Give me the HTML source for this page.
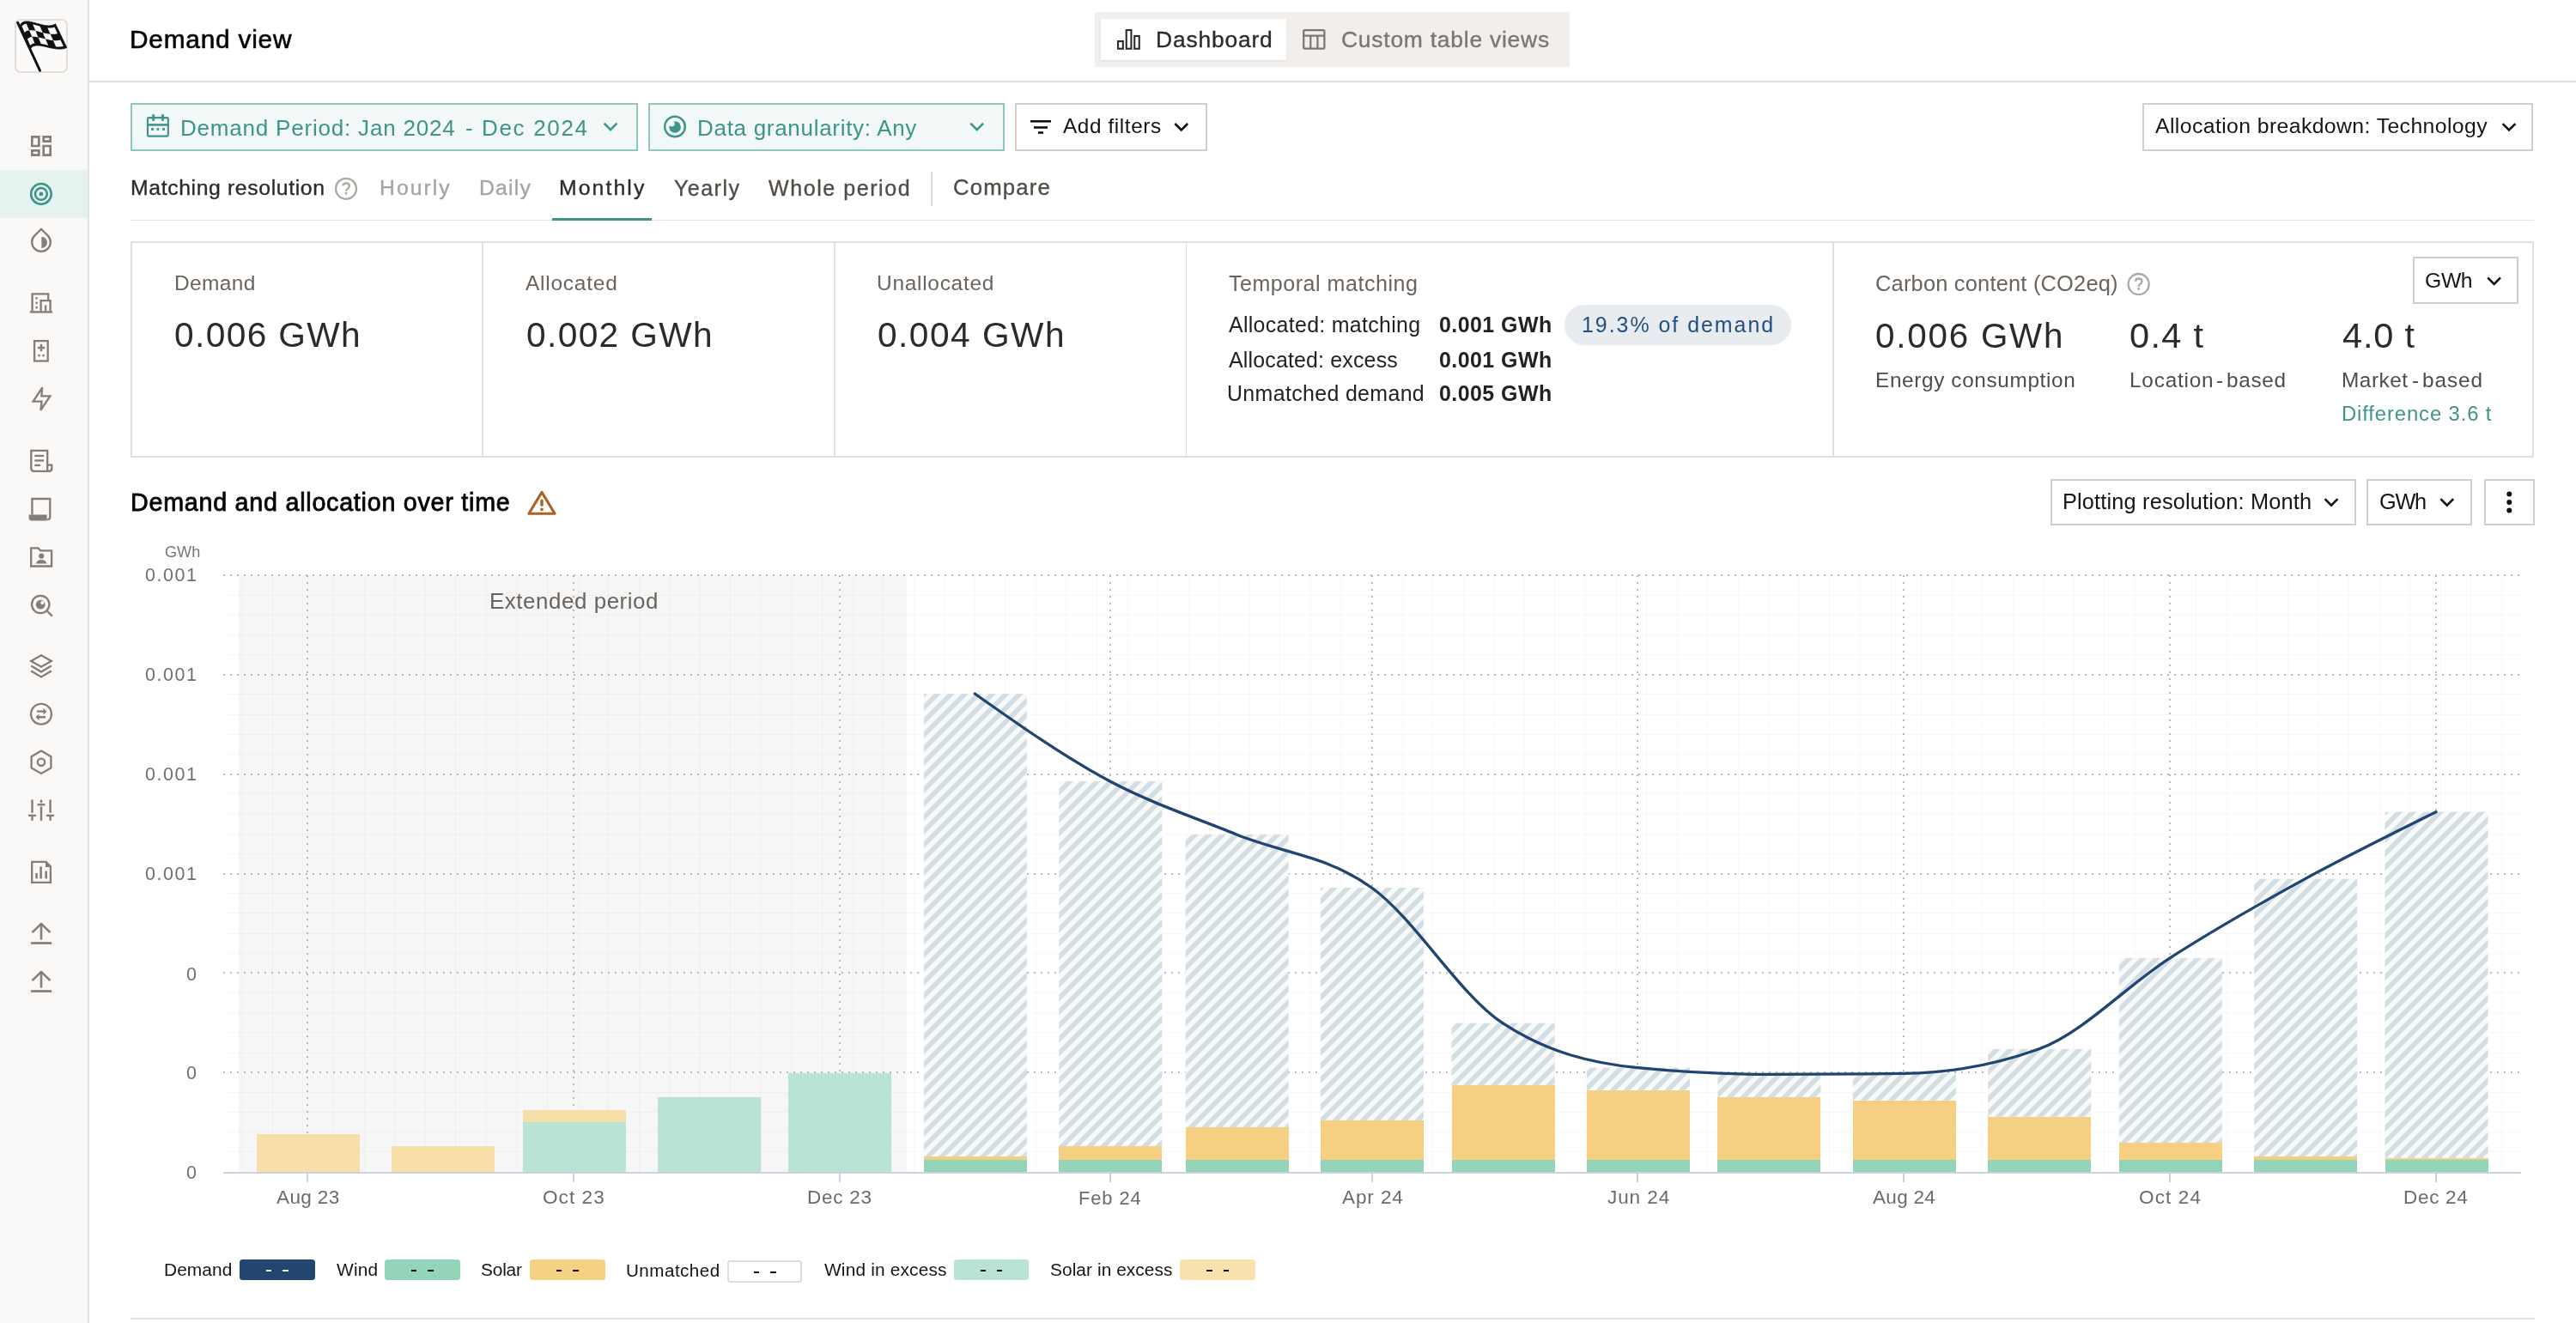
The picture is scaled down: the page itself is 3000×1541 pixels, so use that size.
<!DOCTYPE html><html><head><meta charset="utf-8"><title>Demand view</title><style>html,body{margin:0;padding:0;}body{width:3000px;height:1541px;overflow:hidden;position:relative;background:#fff;font-family:"Liberation Sans",sans-serif;}.t{position:absolute;white-space:nowrap;line-height:1;-webkit-font-smoothing:antialiased;will-change:transform;}</style></head><body><div style="position:absolute;left:0px;top:0px;width:102px;height:1541px;background:#faf9f7"></div><div style="position:absolute;left:102px;top:0px;width:2px;height:1541px;background:#e6e2de"></div><div style="position:absolute;left:0px;top:198px;width:102px;height:56px;background:#e6f2f0"></div><div style="position:absolute;left:16.6px;top:22.2px;width:62.9px;height:63.2px;box-sizing:border-box;border:2px solid #e2dedb;border-radius:7px;background:#fbfaf9"></div><div style="position:absolute;left:104px;top:94.2px;width:2896px;height:1.8px;background:#e3dfdb"></div><div style="position:absolute;left:1274.5px;top:14px;width:553.5px;height:63.5px;background:#f1eeeb"></div><div style="position:absolute;left:1282px;top:22px;width:216px;height:47.5px;background:#fff;box-shadow:0 1px 2px rgba(0,0,0,0.08)"></div><div style="position:absolute;left:152.2px;top:120.2px;width:591px;height:55.5px;box-sizing:border-box;border:2px solid #8dc8bf;background:#f2f8f7"></div><div style="position:absolute;left:754.5px;top:120.2px;width:415px;height:55.5px;box-sizing:border-box;border:2px solid #8dc8bf;background:#f2f8f7"></div><div style="position:absolute;left:1182px;top:120.2px;width:223.8px;height:55.5px;box-sizing:border-box;border:2px solid #d3cdc8;background:#fff"></div><div style="position:absolute;left:2495px;top:120.3px;width:455.3px;height:55.3px;box-sizing:border-box;border:2px solid #d3cdc8;background:#fff"></div><div style="position:absolute;left:152px;top:255.8px;width:2799px;height:1.2px;background:#e6e2de"></div><div style="position:absolute;left:643px;top:253.6px;width:116px;height:3.2px;background:#3d9488"></div><div style="position:absolute;left:1084.2px;top:200px;width:1.6px;height:39.5px;background:#dcd8d4"></div><div style="position:absolute;left:152px;top:281px;width:2799px;height:252px;box-sizing:border-box;border:2px solid #e3dfdb"></div><div style="position:absolute;left:561px;top:281px;width:1.8px;height:252px;background:#e3dfdb"></div><div style="position:absolute;left:971px;top:281px;width:1.8px;height:252px;background:#e3dfdb"></div><div style="position:absolute;left:1380.5px;top:281px;width:1.8px;height:252px;background:#e3dfdb"></div><div style="position:absolute;left:2134.2px;top:281px;width:1.8px;height:252px;background:#e3dfdb"></div><div style="position:absolute;left:1821.8px;top:354.9px;width:264px;height:46.7px;background:#e8ecf0;border-radius:24px"></div><div style="position:absolute;left:2810px;top:299.4px;width:123px;height:54.4px;box-sizing:border-box;border:2px solid #d3cdc8"></div><div style="position:absolute;left:2388.4px;top:557.7px;width:356px;height:54.7px;box-sizing:border-box;border:2px solid #d3cdc8"></div><div style="position:absolute;left:2756.3px;top:557.7px;width:123.1px;height:54.7px;box-sizing:border-box;border:2px solid #d3cdc8"></div><div style="position:absolute;left:2892.5px;top:557.7px;width:59.3px;height:54.7px;box-sizing:border-box;border:2px solid #d3cdc8"></div><div style="position:absolute;left:152px;top:1535px;width:2800px;height:2px;background:#e4e0dd"></div><div style="position:absolute;left:279px;top:1467px;width:87.75px;height:23.75px;background:#22466f;border-radius:3.5px;box-sizing:border-box;"></div><div style="position:absolute;left:310.075px;top:1478.575px;width:6.4px;height:2.2px;background:#fff"></div><div style="position:absolute;left:329.275px;top:1478.575px;width:6.4px;height:2.2px;background:#fff"></div><div style="position:absolute;left:448px;top:1467px;width:87.75px;height:23.75px;background:#94d4b8;border-radius:3.5px;box-sizing:border-box;"></div><div style="position:absolute;left:479.075px;top:1478.575px;width:6.4px;height:2.2px;background:#111"></div><div style="position:absolute;left:498.275px;top:1478.575px;width:6.4px;height:2.2px;background:#111"></div><div style="position:absolute;left:617px;top:1467px;width:87.5px;height:23.75px;background:#f5d283;border-radius:3.5px;box-sizing:border-box;"></div><div style="position:absolute;left:647.95px;top:1478.575px;width:6.4px;height:2.2px;background:#111"></div><div style="position:absolute;left:667.15px;top:1478.575px;width:6.4px;height:2.2px;background:#111"></div><div style="position:absolute;left:847.4px;top:1467.7px;width:86.80000000000007px;height:26.5px;background:#fff;border-radius:3.5px;box-sizing:border-box;border:2px solid #d3dde5;"></div><div style="position:absolute;left:878.0px;top:1480.65px;width:6.4px;height:2.2px;background:#111"></div><div style="position:absolute;left:897.1999999999999px;top:1480.65px;width:6.4px;height:2.2px;background:#111"></div><div style="position:absolute;left:1110.9px;top:1467px;width:87.59999999999991px;height:23.75px;background:#b9e4d3;border-radius:3.5px;box-sizing:border-box;"></div><div style="position:absolute;left:1141.9px;top:1478.575px;width:6.4px;height:2.2px;background:#111"></div><div style="position:absolute;left:1161.1000000000001px;top:1478.575px;width:6.4px;height:2.2px;background:#111"></div><div style="position:absolute;left:1374.3px;top:1467px;width:87.60000000000014px;height:23.75px;background:#f8e1ac;border-radius:3.5px;box-sizing:border-box;"></div><div style="position:absolute;left:1405.3px;top:1478.575px;width:6.4px;height:2.2px;background:#111"></div><div style="position:absolute;left:1424.5px;top:1478.575px;width:6.4px;height:2.2px;background:#111"></div><svg style="position:absolute;left:0;top:600px" width="3000" height="800" viewBox="0 600 3000 800" shape-rendering="crispEdges"><defs><pattern id="hatch" patternUnits="userSpaceOnUse" width="11.3137" height="40" patternTransform="rotate(45) translate(5.66,0)"><rect x="0" y="0" width="11.3137" height="40" fill="#f9fafa"/><rect x="0" y="0" width="5.6569" height="40" fill="#d3dde4"/></pattern></defs><rect x="278" y="669.9" width="778.25" height="695.1" fill="#f6f6f6"/><rect x="259.5" y="1341.3" width="2676.2" height="1" fill="#000" fill-opacity="0.028"/><rect x="259.5" y="1318.2" width="2676.2" height="1" fill="#000" fill-opacity="0.028"/><rect x="259.5" y="1295.0" width="2676.2" height="1" fill="#000" fill-opacity="0.028"/><rect x="259.5" y="1271.8" width="2676.2" height="1" fill="#000" fill-opacity="0.028"/><rect x="259.5" y="1225.5" width="2676.2" height="1" fill="#000" fill-opacity="0.028"/><rect x="259.5" y="1202.3" width="2676.2" height="1" fill="#000" fill-opacity="0.028"/><rect x="259.5" y="1179.1" width="2676.2" height="1" fill="#000" fill-opacity="0.028"/><rect x="259.5" y="1156.0" width="2676.2" height="1" fill="#000" fill-opacity="0.028"/><rect x="259.5" y="1109.6" width="2676.2" height="1" fill="#000" fill-opacity="0.028"/><rect x="259.5" y="1086.5" width="2676.2" height="1" fill="#000" fill-opacity="0.028"/><rect x="259.5" y="1063.3" width="2676.2" height="1" fill="#000" fill-opacity="0.028"/><rect x="259.5" y="1040.1" width="2676.2" height="1" fill="#000" fill-opacity="0.028"/><rect x="259.5" y="993.8" width="2676.2" height="1" fill="#000" fill-opacity="0.028"/><rect x="259.5" y="970.6" width="2676.2" height="1" fill="#000" fill-opacity="0.028"/><rect x="259.5" y="947.4" width="2676.2" height="1" fill="#000" fill-opacity="0.028"/><rect x="259.5" y="924.3" width="2676.2" height="1" fill="#000" fill-opacity="0.028"/><rect x="259.5" y="877.9" width="2676.2" height="1" fill="#000" fill-opacity="0.028"/><rect x="259.5" y="854.8" width="2676.2" height="1" fill="#000" fill-opacity="0.028"/><rect x="259.5" y="831.6" width="2676.2" height="1" fill="#000" fill-opacity="0.028"/><rect x="259.5" y="808.4" width="2676.2" height="1" fill="#000" fill-opacity="0.028"/><rect x="259.5" y="762.1" width="2676.2" height="1" fill="#000" fill-opacity="0.028"/><rect x="259.5" y="738.9" width="2676.2" height="1" fill="#000" fill-opacity="0.028"/><rect x="259.5" y="715.7" width="2676.2" height="1" fill="#000" fill-opacity="0.028"/><rect x="259.5" y="692.6" width="2676.2" height="1" fill="#000" fill-opacity="0.028"/><rect x="281.3" y="669.9" width="1" height="695.1" fill="#000" fill-opacity="0.028"/><rect x="316.9" y="669.9" width="1" height="695.1" fill="#000" fill-opacity="0.028"/><rect x="352.4" y="669.9" width="1" height="695.1" fill="#000" fill-opacity="0.028"/><rect x="388.0" y="669.9" width="1" height="695.1" fill="#000" fill-opacity="0.028"/><rect x="423.5" y="669.9" width="1" height="695.1" fill="#000" fill-opacity="0.028"/><rect x="459.1" y="669.9" width="1" height="695.1" fill="#000" fill-opacity="0.028"/><rect x="494.7" y="669.9" width="1" height="695.1" fill="#000" fill-opacity="0.028"/><rect x="530.2" y="669.9" width="1" height="695.1" fill="#000" fill-opacity="0.028"/><rect x="565.8" y="669.9" width="1" height="695.1" fill="#000" fill-opacity="0.028"/><rect x="601.3" y="669.9" width="1" height="695.1" fill="#000" fill-opacity="0.028"/><rect x="636.9" y="669.9" width="1" height="695.1" fill="#000" fill-opacity="0.028"/><rect x="672.5" y="669.9" width="1" height="695.1" fill="#000" fill-opacity="0.028"/><rect x="708.0" y="669.9" width="1" height="695.1" fill="#000" fill-opacity="0.028"/><rect x="743.6" y="669.9" width="1" height="695.1" fill="#000" fill-opacity="0.028"/><rect x="779.1" y="669.9" width="1" height="695.1" fill="#000" fill-opacity="0.028"/><rect x="814.7" y="669.9" width="1" height="695.1" fill="#000" fill-opacity="0.028"/><rect x="850.3" y="669.9" width="1" height="695.1" fill="#000" fill-opacity="0.028"/><rect x="885.8" y="669.9" width="1" height="695.1" fill="#000" fill-opacity="0.028"/><rect x="921.4" y="669.9" width="1" height="695.1" fill="#000" fill-opacity="0.028"/><rect x="956.9" y="669.9" width="1" height="695.1" fill="#000" fill-opacity="0.028"/><rect x="992.5" y="669.9" width="1" height="695.1" fill="#000" fill-opacity="0.028"/><rect x="1028.0" y="669.9" width="1" height="695.1" fill="#000" fill-opacity="0.028"/><rect x="1063.6" y="669.9" width="1" height="695.1" fill="#000" fill-opacity="0.028"/><rect x="1099.2" y="669.9" width="1" height="695.1" fill="#000" fill-opacity="0.028"/><rect x="1134.7" y="669.9" width="1" height="695.1" fill="#000" fill-opacity="0.028"/><rect x="1170.3" y="669.9" width="1" height="695.1" fill="#000" fill-opacity="0.028"/><rect x="1205.8" y="669.9" width="1" height="695.1" fill="#000" fill-opacity="0.028"/><rect x="1241.4" y="669.9" width="1" height="695.1" fill="#000" fill-opacity="0.028"/><rect x="1277.0" y="669.9" width="1" height="695.1" fill="#000" fill-opacity="0.028"/><rect x="1312.5" y="669.9" width="1" height="695.1" fill="#000" fill-opacity="0.028"/><rect x="1348.1" y="669.9" width="1" height="695.1" fill="#000" fill-opacity="0.028"/><rect x="1383.6" y="669.9" width="1" height="695.1" fill="#000" fill-opacity="0.028"/><rect x="1419.2" y="669.9" width="1" height="695.1" fill="#000" fill-opacity="0.028"/><rect x="1454.8" y="669.9" width="1" height="695.1" fill="#000" fill-opacity="0.028"/><rect x="1490.3" y="669.9" width="1" height="695.1" fill="#000" fill-opacity="0.028"/><rect x="1525.9" y="669.9" width="1" height="695.1" fill="#000" fill-opacity="0.028"/><rect x="1561.4" y="669.9" width="1" height="695.1" fill="#000" fill-opacity="0.028"/><rect x="1597.0" y="669.9" width="1" height="695.1" fill="#000" fill-opacity="0.028"/><rect x="1632.6" y="669.9" width="1" height="695.1" fill="#000" fill-opacity="0.028"/><rect x="1668.1" y="669.9" width="1" height="695.1" fill="#000" fill-opacity="0.028"/><rect x="1703.7" y="669.9" width="1" height="695.1" fill="#000" fill-opacity="0.028"/><rect x="1739.2" y="669.9" width="1" height="695.1" fill="#000" fill-opacity="0.028"/><rect x="1774.8" y="669.9" width="1" height="695.1" fill="#000" fill-opacity="0.028"/><rect x="1810.4" y="669.9" width="1" height="695.1" fill="#000" fill-opacity="0.028"/><rect x="1845.9" y="669.9" width="1" height="695.1" fill="#000" fill-opacity="0.028"/><rect x="1881.5" y="669.9" width="1" height="695.1" fill="#000" fill-opacity="0.028"/><rect x="1917.0" y="669.9" width="1" height="695.1" fill="#000" fill-opacity="0.028"/><rect x="1952.6" y="669.9" width="1" height="695.1" fill="#000" fill-opacity="0.028"/><rect x="1988.2" y="669.9" width="1" height="695.1" fill="#000" fill-opacity="0.028"/><rect x="2023.7" y="669.9" width="1" height="695.1" fill="#000" fill-opacity="0.028"/><rect x="2059.3" y="669.9" width="1" height="695.1" fill="#000" fill-opacity="0.028"/><rect x="2094.8" y="669.9" width="1" height="695.1" fill="#000" fill-opacity="0.028"/><rect x="2130.4" y="669.9" width="1" height="695.1" fill="#000" fill-opacity="0.028"/><rect x="2166.0" y="669.9" width="1" height="695.1" fill="#000" fill-opacity="0.028"/><rect x="2201.5" y="669.9" width="1" height="695.1" fill="#000" fill-opacity="0.028"/><rect x="2237.1" y="669.9" width="1" height="695.1" fill="#000" fill-opacity="0.028"/><rect x="2272.6" y="669.9" width="1" height="695.1" fill="#000" fill-opacity="0.028"/><rect x="2308.2" y="669.9" width="1" height="695.1" fill="#000" fill-opacity="0.028"/><rect x="2343.7" y="669.9" width="1" height="695.1" fill="#000" fill-opacity="0.028"/><rect x="2379.3" y="669.9" width="1" height="695.1" fill="#000" fill-opacity="0.028"/><rect x="2414.9" y="669.9" width="1" height="695.1" fill="#000" fill-opacity="0.028"/><rect x="2450.4" y="669.9" width="1" height="695.1" fill="#000" fill-opacity="0.028"/><rect x="2486.0" y="669.9" width="1" height="695.1" fill="#000" fill-opacity="0.028"/><rect x="2521.5" y="669.9" width="1" height="695.1" fill="#000" fill-opacity="0.028"/><rect x="2557.1" y="669.9" width="1" height="695.1" fill="#000" fill-opacity="0.028"/><rect x="2592.7" y="669.9" width="1" height="695.1" fill="#000" fill-opacity="0.028"/><rect x="2628.2" y="669.9" width="1" height="695.1" fill="#000" fill-opacity="0.028"/><rect x="2663.8" y="669.9" width="1" height="695.1" fill="#000" fill-opacity="0.028"/><rect x="2699.3" y="669.9" width="1" height="695.1" fill="#000" fill-opacity="0.028"/><rect x="2734.9" y="669.9" width="1" height="695.1" fill="#000" fill-opacity="0.028"/><rect x="2770.5" y="669.9" width="1" height="695.1" fill="#000" fill-opacity="0.028"/><rect x="2806.0" y="669.9" width="1" height="695.1" fill="#000" fill-opacity="0.028"/><rect x="2841.6" y="669.9" width="1" height="695.1" fill="#000" fill-opacity="0.028"/><rect x="2877.1" y="669.9" width="1" height="695.1" fill="#000" fill-opacity="0.028"/><rect x="2912.7" y="669.9" width="1" height="695.1" fill="#000" fill-opacity="0.028"/><line x1="259.5" y1="1249.2" x2="2935.75" y2="1249.2" stroke="#bababa" stroke-width="2" stroke-dasharray="2 6"/><line x1="259.5" y1="1133.3" x2="2935.75" y2="1133.3" stroke="#bababa" stroke-width="2" stroke-dasharray="2 6"/><line x1="259.5" y1="1017.5" x2="2935.75" y2="1017.5" stroke="#bababa" stroke-width="2" stroke-dasharray="2 6"/><line x1="259.5" y1="901.6" x2="2935.75" y2="901.6" stroke="#bababa" stroke-width="2" stroke-dasharray="2 6"/><line x1="259.5" y1="785.8" x2="2935.75" y2="785.8" stroke="#bababa" stroke-width="2" stroke-dasharray="2 6"/><line x1="259.5" y1="669.9" x2="2935.75" y2="669.9" stroke="#bababa" stroke-width="2" stroke-dasharray="2 6"/><line x1="358.0" y1="669.9" x2="358.0" y2="1365.0" stroke="#bababa" stroke-width="2" stroke-dasharray="2 6"/><line x1="667.9" y1="669.9" x2="667.9" y2="1365.0" stroke="#bababa" stroke-width="2" stroke-dasharray="2 6"/><line x1="977.8" y1="669.9" x2="977.8" y2="1365.0" stroke="#bababa" stroke-width="2" stroke-dasharray="2 6"/><line x1="1292.7" y1="669.9" x2="1292.7" y2="1365.0" stroke="#bababa" stroke-width="2" stroke-dasharray="2 6"/><line x1="1597.5" y1="669.9" x2="1597.5" y2="1365.0" stroke="#bababa" stroke-width="2" stroke-dasharray="2 6"/><line x1="1907.4" y1="669.9" x2="1907.4" y2="1365.0" stroke="#bababa" stroke-width="2" stroke-dasharray="2 6"/><line x1="2217.2" y1="669.9" x2="2217.2" y2="1365.0" stroke="#bababa" stroke-width="2" stroke-dasharray="2 6"/><line x1="2527.1" y1="669.9" x2="2527.1" y2="1365.0" stroke="#bababa" stroke-width="2" stroke-dasharray="2 6"/><line x1="2837.0" y1="669.9" x2="2837.0" y2="1365.0" stroke="#bababa" stroke-width="2" stroke-dasharray="2 6"/><rect x="298.6" y="1320.75" width="120" height="44.25" fill="#f8dfa9"/><rect x="456.1" y="1335" width="120" height="30.0" fill="#f8dfa9"/><rect x="608.5" y="1293" width="120" height="14" fill="#f8dfa9"/><rect x="608.5" y="1307" width="120" height="58.0" fill="#b9e4d3"/><rect x="766.0" y="1278" width="120" height="87.0" fill="#b9e4d3"/><rect x="918.4" y="1250" width="120" height="115.0" fill="#b9e4d3"/><rect x="1075.8" y="808" width="120" height="539.0" fill="url(#hatch)" shape-rendering="auto"/><rect x="1075.8" y="1347" width="120" height="4.0" fill="#f5d083"/><rect x="1075.8" y="1351" width="120" height="14.0" fill="#94d4b8"/><rect x="1233.3" y="910" width="120" height="425.0" fill="url(#hatch)" shape-rendering="auto"/><rect x="1233.3" y="1335" width="120" height="16.0" fill="#f5d083"/><rect x="1233.3" y="1351" width="120" height="14.0" fill="#94d4b8"/><rect x="1380.6" y="972" width="120" height="341.0" fill="url(#hatch)" shape-rendering="auto"/><rect x="1380.6" y="1313" width="120" height="38.0" fill="#f5d083"/><rect x="1380.6" y="1351" width="120" height="14.0" fill="#94d4b8"/><rect x="1538.1" y="1034" width="120" height="271.0" fill="url(#hatch)" shape-rendering="auto"/><rect x="1538.1" y="1305" width="120" height="46.0" fill="#f5d083"/><rect x="1538.1" y="1351" width="120" height="14.0" fill="#94d4b8"/><rect x="1690.5" y="1191.7" width="120" height="72.3" fill="url(#hatch)" shape-rendering="auto"/><rect x="1690.5" y="1264" width="120" height="87.0" fill="#f5d083"/><rect x="1690.5" y="1351" width="120" height="14.0" fill="#94d4b8"/><rect x="1848.0" y="1243.7" width="120" height="26.0" fill="url(#hatch)" shape-rendering="auto"/><rect x="1848.0" y="1269.7" width="120" height="81.3" fill="#f5d083"/><rect x="1848.0" y="1351" width="120" height="14.0" fill="#94d4b8"/><rect x="2000.4" y="1251.3" width="120" height="26.6" fill="url(#hatch)" shape-rendering="auto"/><rect x="2000.4" y="1277.9" width="120" height="73.1" fill="#f5d083"/><rect x="2000.4" y="1351" width="120" height="14.0" fill="#94d4b8"/><rect x="2157.8" y="1250.4" width="120" height="31.4" fill="url(#hatch)" shape-rendering="auto"/><rect x="2157.8" y="1281.8" width="120" height="69.2" fill="#f5d083"/><rect x="2157.8" y="1351" width="120" height="14.0" fill="#94d4b8"/><rect x="2315.3" y="1221.8" width="120" height="79.0" fill="url(#hatch)" shape-rendering="auto"/><rect x="2315.3" y="1300.8" width="120" height="50.2" fill="#f5d083"/><rect x="2315.3" y="1351" width="120" height="14.0" fill="#94d4b8"/><rect x="2467.7" y="1115.8" width="120" height="215.2" fill="url(#hatch)" shape-rendering="auto"/><rect x="2467.7" y="1331" width="120" height="20.0" fill="#f5d083"/><rect x="2467.7" y="1351" width="120" height="14.0" fill="#94d4b8"/><rect x="2625.2" y="1023.6" width="120" height="323.4" fill="url(#hatch)" shape-rendering="auto"/><rect x="2625.2" y="1347" width="120" height="4.0" fill="#f5d083"/><rect x="2625.2" y="1351" width="120" height="14.0" fill="#94d4b8"/><rect x="2777.6" y="945.7" width="120" height="403.3" fill="url(#hatch)" shape-rendering="auto"/><rect x="2777.6" y="1349" width="120" height="2.0" fill="#f5d083"/><rect x="2777.6" y="1351" width="120" height="14.0" fill="#94d4b8"/><rect x="259.5" y="1365.0" width="2676.25" height="2" fill="#cdd1e4"/><rect x="357.0" y="1367.0" width="2" height="10" fill="#cdd1e4"/><rect x="666.9" y="1367.0" width="2" height="10" fill="#cdd1e4"/><rect x="976.8" y="1367.0" width="2" height="10" fill="#cdd1e4"/><rect x="1291.7" y="1367.0" width="2" height="10" fill="#cdd1e4"/><rect x="1596.5" y="1367.0" width="2" height="10" fill="#cdd1e4"/><rect x="1906.4" y="1367.0" width="2" height="10" fill="#cdd1e4"/><rect x="2216.2" y="1367.0" width="2" height="10" fill="#cdd1e4"/><rect x="2526.1" y="1367.0" width="2" height="10" fill="#cdd1e4"/><rect x="2836.0" y="1367.0" width="2" height="10" fill="#cdd1e4"/><path d="M1135.23,808.00 C1187.72,845.08 1240.21,882.15 1292.70,910.00 C1341.81,936.05 1390.92,951.98 1440.02,972.00 C1492.52,993.40 1545.01,996.23 1597.50,1034.00 C1648.30,1070.55 1699.10,1158.15 1749.90,1191.70 C1802.39,1226.37 1854.88,1238.46 1907.38,1243.70 C1958.17,1248.77 2008.97,1251.30 2059.77,1251.30 C2112.27,1251.30 2164.76,1251.00 2217.25,1250.40 C2269.74,1249.80 2322.23,1240.87 2374.73,1221.80 C2425.53,1203.35 2476.33,1148.38 2527.12,1115.80 C2579.62,1082.13 2632.11,1052.35 2684.60,1023.60 C2735.40,995.78 2786.20,970.74 2837.00,945.70" fill="none" stroke="#1f4571" stroke-width="3.3" stroke-linecap="round" shape-rendering="auto"/></svg><div class="t" style="left:151.16px;top:31.16px;font-size:29.81px;letter-spacing:0.796px;color:#050505;font-weight:normal;-webkit-text-stroke:0.6px #050505;">Demand view</div><div class="t" style="left:1346.43px;top:32.59px;font-size:26.46px;letter-spacing:0.788px;color:#2b2b2b;font-weight:normal;-webkit-text-stroke:0.35px #2b2b2b;">Dashboard</div><div class="t" style="left:1562.26px;top:32.59px;font-size:26.46px;letter-spacing:0.752px;color:#7d756e;font-weight:normal;-webkit-text-stroke:0.35px #7d756e;">Custom table views</div><div class="t" style="left:210.36px;top:136.05px;font-size:26.04px;letter-spacing:0.784px;color:#3d9488;font-weight:normal;">Demand Period: Jan 2024</div><div class="t" style="left:542.44px;top:136.05px;font-size:26.04px;letter-spacing:0.000px;color:#3d9488;font-weight:normal;">-</div><div class="t" style="left:561.46px;top:136.05px;font-size:26.04px;letter-spacing:1.666px;color:#3d9488;font-weight:normal;">Dec 2024</div><div class="t" style="left:812.46px;top:136.05px;font-size:26.04px;letter-spacing:0.687px;color:#3d9488;font-weight:normal;">Data granularity: Any</div><div class="t" style="left:1237.55px;top:135.36px;font-size:24.37px;letter-spacing:0.582px;color:#151515;font-weight:normal;">Add filters</div><div class="t" style="left:2510.25px;top:135.31px;font-size:24.79px;letter-spacing:0.398px;color:#151515;font-weight:normal;">Allocation breakdown: Technology</div><div class="t" style="left:152.47px;top:206.91px;font-size:24.79px;letter-spacing:0.617px;color:#2b2b2b;font-weight:normal;-webkit-text-stroke:0.35px #2b2b2b;">Matching resolution</div><div class="t" style="left:442.37px;top:206.91px;font-size:24.79px;letter-spacing:2.005px;color:#a8a39e;font-weight:normal;-webkit-text-stroke:0.35px #a8a39e;">Hourly</div><div class="t" style="left:557.67px;top:206.91px;font-size:24.79px;letter-spacing:1.210px;color:#a8a39e;font-weight:normal;-webkit-text-stroke:0.35px #a8a39e;">Daily</div><div class="t" style="left:650.87px;top:206.91px;font-size:24.79px;letter-spacing:2.092px;color:#2b2b2b;font-weight:normal;-webkit-text-stroke:0.35px #2b2b2b;">Monthly</div><div class="t" style="left:784.55px;top:206.77px;font-size:25.07px;letter-spacing:1.440px;color:#524c47;font-weight:normal;-webkit-text-stroke:0.35px #524c47;">Yearly</div><div class="t" style="left:895.49px;top:206.77px;font-size:25.07px;letter-spacing:1.537px;color:#524c47;font-weight:normal;-webkit-text-stroke:0.35px #524c47;">Whole period</div><div class="t" style="left:1110.29px;top:206.17px;font-size:25.78px;letter-spacing:1.139px;color:#524c47;font-weight:normal;-webkit-text-stroke:0.35px #524c47;">Compare</div><div class="t" style="left:202.59px;top:318.15px;font-size:24.51px;letter-spacing:0.336px;color:#6b635c;font-weight:normal;">Demand</div><div class="t" style="left:203.31px;top:370.47px;font-size:40.67px;letter-spacing:1.384px;color:#2b2b2b;font-weight:normal;">0.006 GWh</div><div class="t" style="left:612.35px;top:318.15px;font-size:24.51px;letter-spacing:0.754px;color:#6b635c;font-weight:normal;">Allocated</div><div class="t" style="left:612.61px;top:370.47px;font-size:40.67px;letter-spacing:1.372px;color:#2b2b2b;font-weight:normal;">0.002 GWh</div><div class="t" style="left:1020.91px;top:318.15px;font-size:24.51px;letter-spacing:0.698px;color:#6b635c;font-weight:normal;">Unallocated</div><div class="t" style="left:1021.91px;top:370.47px;font-size:40.67px;letter-spacing:1.484px;color:#2b2b2b;font-weight:normal;">0.004 GWh</div><div class="t" style="left:1430.64px;top:318.37px;font-size:25.07px;letter-spacing:0.509px;color:#6b635c;font-weight:normal;">Temporal matching</div><div class="t" style="left:1431.15px;top:365.99px;font-size:24.93px;letter-spacing:0.309px;color:#222222;font-weight:normal;">Allocated: matching</div><div class="t" style="left:1431.15px;top:406.89px;font-size:24.93px;letter-spacing:0.176px;color:#222222;font-weight:normal;">Allocated: excess</div><div class="t" style="left:1429.28px;top:446.49px;font-size:24.93px;letter-spacing:0.353px;color:#222222;font-weight:normal;">Unmatched demand</div><div class="t" style="left:1675.61px;top:365.99px;font-size:24.93px;letter-spacing:0.464px;color:#222222;font-weight:bold;">0.001 GWh</div><div class="t" style="left:1675.61px;top:406.89px;font-size:24.93px;letter-spacing:0.464px;color:#222222;font-weight:bold;">0.001 GWh</div><div class="t" style="left:1675.61px;top:446.49px;font-size:24.93px;letter-spacing:0.464px;color:#222222;font-weight:bold;">0.005 GWh</div><div class="t" style="left:1842.40px;top:365.99px;font-size:24.93px;letter-spacing:1.982px;color:#245080;font-weight:normal;">19.3% of demand</div><div class="t" style="left:2184.31px;top:317.98px;font-size:25.42px;letter-spacing:0.207px;color:#6b635c;font-weight:normal;">Carbon content (CO2eq)</div><div class="t" style="left:2184.02px;top:370.80px;font-size:40.39px;letter-spacing:1.771px;color:#2b2b2b;font-weight:normal;">0.006 GWh</div><div class="t" style="left:2479.98px;top:369.83px;font-size:41.53px;letter-spacing:1.336px;color:#2b2b2b;font-weight:normal;">0.4 t</div><div class="t" style="left:2727.65px;top:369.83px;font-size:41.53px;letter-spacing:0.844px;color:#2b2b2b;font-weight:normal;">4.0 t</div><div class="t" style="left:2183.60px;top:430.61px;font-size:24.37px;letter-spacing:0.630px;color:#524c47;font-weight:normal;">Energy consumption</div><div class="t" style="left:2479.60px;top:430.61px;font-size:24.37px;letter-spacing:0.796px;color:#524c47;font-weight:normal;">Location</div><div class="t" style="left:2580.92px;top:430.61px;font-size:24.37px;letter-spacing:0.000px;color:#524c47;font-weight:normal;">-</div><div class="t" style="left:2593.33px;top:430.61px;font-size:24.37px;letter-spacing:0.667px;color:#524c47;font-weight:normal;">based</div><div class="t" style="left:2726.80px;top:430.61px;font-size:24.37px;letter-spacing:0.525px;color:#524c47;font-weight:normal;">Market</div><div class="t" style="left:2808.52px;top:430.61px;font-size:24.37px;letter-spacing:0.000px;color:#524c47;font-weight:normal;">-</div><div class="t" style="left:2820.53px;top:430.61px;font-size:24.37px;letter-spacing:0.942px;color:#524c47;font-weight:normal;">based</div><div class="t" style="left:2726.65px;top:470.44px;font-size:23.82px;letter-spacing:0.892px;color:#3d9488;font-weight:normal;">Difference 3.6 t</div><div class="t" style="left:2824.35px;top:314.51px;font-size:24.79px;letter-spacing:-0.398px;color:#151515;font-weight:normal;">GWh</div><div class="t" style="left:152.25px;top:570.61px;font-size:28.69px;letter-spacing:0.746px;color:#050505;font-weight:normal;-webkit-text-stroke:0.8px #050505;">Demand and allocation over time</div><div class="t" style="left:2401.52px;top:572.04px;font-size:25.35px;letter-spacing:0.165px;color:#151515;font-weight:normal;">Plotting resolution: Month</div><div class="t" style="left:2770.73px;top:572.04px;font-size:25.35px;letter-spacing:-1.291px;color:#151515;font-weight:normal;">GWh</div><div class="t" style="left:192.19px;top:633.67px;font-size:18.11px;letter-spacing:0.034px;color:#777777;font-weight:normal;">GWh</div><div class="t" style="left:570.07px;top:687.67px;font-size:25.91px;letter-spacing:0.558px;color:#6b635c;font-weight:normal;">Extended period</div><div class="t" style="left:217.26px;top:1356.31px;font-size:21.48px;letter-spacing:0.000px;color:#6e6e6e;font-weight:normal;">0</div><div class="t" style="left:217.26px;top:1240.46px;font-size:21.48px;letter-spacing:0.000px;color:#6e6e6e;font-weight:normal;">0</div><div class="t" style="left:217.26px;top:1124.61px;font-size:21.48px;letter-spacing:0.000px;color:#6e6e6e;font-weight:normal;">0</div><div class="t" style="left:168.51px;top:1008.01px;font-size:21.48px;letter-spacing:1.526px;color:#6e6e6e;font-weight:normal;">0.001</div><div class="t" style="left:168.51px;top:892.16px;font-size:21.48px;letter-spacing:1.526px;color:#6e6e6e;font-weight:normal;">0.001</div><div class="t" style="left:168.51px;top:776.31px;font-size:21.48px;letter-spacing:1.526px;color:#6e6e6e;font-weight:normal;">0.001</div><div class="t" style="left:168.51px;top:660.46px;font-size:21.48px;letter-spacing:1.526px;color:#6e6e6e;font-weight:normal;">0.001</div><div class="t" style="left:322.06px;top:1384.15px;font-size:22.56px;letter-spacing:0.353px;color:#6b6b6b;font-weight:normal;">Aug 23</div><div class="t" style="left:632.16px;top:1384.15px;font-size:22.56px;letter-spacing:1.068px;color:#6b6b6b;font-weight:normal;">Oct 23</div><div class="t" style="left:940.00px;top:1384.15px;font-size:22.56px;letter-spacing:0.718px;color:#6b6b6b;font-weight:normal;">Dec 23</div><div class="t" style="left:1256.01px;top:1384.68px;font-size:21.94px;letter-spacing:0.878px;color:#6b6b6b;font-weight:normal;">Feb 24</div><div class="t" style="left:1562.56px;top:1384.15px;font-size:22.56px;letter-spacing:0.893px;color:#6b6b6b;font-weight:normal;">Apr 24</div><div class="t" style="left:1871.62px;top:1384.15px;font-size:22.56px;letter-spacing:0.902px;color:#6b6b6b;font-weight:normal;">Jun 24</div><div class="t" style="left:2181.31px;top:1384.15px;font-size:22.56px;letter-spacing:0.287px;color:#6b6b6b;font-weight:normal;">Aug 24</div><div class="t" style="left:2491.16px;top:1384.15px;font-size:22.56px;letter-spacing:1.101px;color:#6b6b6b;font-weight:normal;">Oct 24</div><div class="t" style="left:2799.20px;top:1384.15px;font-size:22.56px;letter-spacing:0.672px;color:#6b6b6b;font-weight:normal;">Dec 24</div><div class="t" style="left:191.39px;top:1468.56px;font-size:20.89px;letter-spacing:0.071px;color:#151515;font-weight:normal;">Demand</div><div class="t" style="left:392.26px;top:1468.56px;font-size:20.89px;letter-spacing:0.192px;color:#151515;font-weight:normal;">Wind</div><div class="t" style="left:560.40px;top:1468.56px;font-size:20.89px;letter-spacing:-0.185px;color:#151515;font-weight:normal;">Solar</div><div class="t" style="left:729.31px;top:1470.35px;font-size:20.61px;letter-spacing:0.477px;color:#151515;font-weight:normal;">Unmatched</div><div class="t" style="left:960.01px;top:1468.56px;font-size:20.89px;letter-spacing:0.166px;color:#151515;font-weight:normal;">Wind in excess</div><div class="t" style="left:1222.65px;top:1468.56px;font-size:20.89px;letter-spacing:0.067px;color:#151515;font-weight:normal;">Solar in excess</div><svg style="position:absolute;left:0;top:0" width="3000" height="1541" viewBox="0 0 3000 1541"><g transform="translate(32,154) scale(1.3333)" fill="#857d76"><path d="M19 5v2h-4V5h4M9 5v6H5V5h4m10 8v6h-4v-6h4M9 17v2H5v-2h4M21 3h-8v6h8V3zM11 3H3v10h8V3zm10 8h-8v10h8V11zm-10 4H3v6h8v-6z"/></g><g fill="none" stroke="#3d9488" stroke-width="2.5"><circle cx="47.9" cy="225.9" r="11.8"/><circle cx="47.9" cy="225.9" r="6.9"/></g><circle cx="47.9" cy="225.9" r="2.4" fill="#3d9488"/><path d="M48 266.7 L40.33 274.33 A10.85 10.85 0 1 0 55.67 274.33 Z" fill="none" stroke="#857d76" stroke-width="2.3" stroke-linejoin="round"/><path d="M48.4 275.8 A6.6 6.6 0 0 1 48.4 289 Z" fill="#857d76"/><g fill="none" stroke="#857d76" stroke-width="2.3"><path d="M37.6 362.5 V342.3 H56.2 V350.2"/><path d="M47.6 362.5 V350.2 H58.6 V362.5"/><path d="M53.1 355.4 V362.5"/></g><rect x="34.8" y="362.2" width="26.2" height="2.4" fill="#857d76"/><g fill="#857d76"><rect x="41.4" y="346.2" width="2.4" height="2.4"/><rect x="41.4" y="351.6" width="2.4" height="2.4"/><rect x="41.4" y="357" width="2.4" height="2.4"/></g><rect x="40.1" y="397.1" width="15.6" height="23.4" fill="none" stroke="#857d76" stroke-width="2.3"/><g fill="#857d76"><rect x="46.8" y="400.8" width="2.4" height="8.4"/><rect x="43.8" y="403.8" width="8.4" height="2.4"/><rect x="44.3" y="412.9" width="2.4" height="2.4"/><rect x="49.4" y="412.9" width="2.4" height="2.4"/></g><path d="M49.3 451.5 L38.6 467.6 H48.6 L47.3 477.8 L58.3 461.4 H48.3 Z" fill="none" stroke="#857d76" stroke-width="2.3" stroke-linejoin="miter"/><path d="M55.2 541.2 V524.9 H36.3 V545.5 Q36.3 548.8 39.6 548.8 H57.2 Q60.3 548.8 60.3 545.5 V541.7 H55.2 V548.6" fill="none" stroke="#857d76" stroke-width="2.3"/><g fill="#857d76"><rect x="40.3" y="529.8" width="10.8" height="2.3"/><rect x="40.3" y="535.3" width="10.8" height="2.3"/><rect x="40.3" y="540.8" width="6.6" height="2.3"/></g><path d="M37.4 599.5 V581 H58.3 V602 Q58.3 605.2 55.1 605.2" fill="none" stroke="#857d76" stroke-width="2.3"/><path d="M33.6 599.4 H54.6 V606.4 H37.2 Q33.6 606.4 33.6 602.8 Z" fill="#857d76"/><path d="M36.2 659.5 V638.4 H44.5 L47.2 641.4 H60.1 V659.5 Z" fill="none" stroke="#857d76" stroke-width="2.3"/><circle cx="48.2" cy="647.6" r="3.1" fill="#857d76"/><path d="M42 656.6 Q42.8 651.9 48.2 651.9 Q53.6 651.9 54.4 656.6 Z" fill="#857d76"/><circle cx="47.2" cy="704" r="10.2" fill="none" stroke="#857d76" stroke-width="2.3"/><line x1="54.4" y1="711.2" x2="60.8" y2="717.6" stroke="#857d76" stroke-width="2.3"/><circle cx="47.2" cy="704.2" r="5.4" fill="#857d76"/><circle cx="49.3" cy="702.1" r="2.1" fill="#faf9f7"/><g fill="none" stroke="#857d76" stroke-width="2.3"><path d="M48 763.3 L59.8 770 L48 776.7 L36.2 770 Z"/><path d="M36.2 775.6 L48 782.6 L59.8 775.6"/><path d="M36.2 781.5 L48 788.5 L59.8 781.5"/></g><circle cx="48" cy="831.7" r="11.9" fill="none" stroke="#857d76" stroke-width="2.3"/><path d="M43 828.1 H50.6 V825.4 L54.4 829.3 L50.6 833.2 V830.4 H43 Z" fill="#857d76" transform="translate(0,-0.6)"/><path d="M53 835.3 H45.4 V832.6 L41.6 836.5 L45.4 840.4 V837.6 H53 Z" fill="#857d76" transform="translate(0,-1.2)"/><path d="M48 874.6 L59.4 881.2 V894.4 L48 901 L36.6 894.4 V881.2 Z" fill="none" stroke="#857d76" stroke-width="2.3"/><circle cx="48" cy="887.8" r="4.2" fill="none" stroke="#857d76" stroke-width="2.3"/><g stroke="#857d76" stroke-width="2.4"><line x1="37.5" y1="931.5" x2="37.5" y2="946.8"/><line x1="37.5" y1="951" x2="37.5" y2="955.8"/><line x1="48" y1="931.5" x2="48" y2="935"/><line x1="48" y1="939.3" x2="48" y2="955.8"/><line x1="58.6" y1="931.5" x2="58.6" y2="946.8"/><line x1="58.6" y1="951" x2="58.6" y2="955.8"/><line x1="33" y1="949.9" x2="42" y2="949.9"/><line x1="43.5" y1="937.2" x2="52.5" y2="937.2"/><line x1="54" y1="949.9" x2="63" y2="949.9"/></g><path d="M37.2 1003.9 H53.6 L58.9 1009.2 V1027.8 H37.2 Z" fill="none" stroke="#857d76" stroke-width="2.3"/><path d="M53 1003 L60 1010 H53 Z" fill="#857d76"/><g fill="#857d76"><rect x="41.3" y="1017" width="2.6" height="6.4"/><rect x="46.3" y="1009.3" width="2.6" height="14.1"/><rect x="52.4" y="1014.6" width="2.6" height="8.8"/></g><g fill="none" stroke="#857d76" stroke-width="2.5"><path d="M37.5 1086.2 L48 1075.9 L58.5 1086.2" transform="translate(0,0.0)"/><line x1="48" y1="1076.5" x2="48" y2="1094.6"/></g><rect x="36" y="1097.2" width="24.1" height="2.7" fill="#857d76"/><g fill="none" stroke="#857d76" stroke-width="2.5"><path d="M37.5 1086.2 L48 1075.9 L58.5 1086.2" transform="translate(0,56.0)"/><line x1="48" y1="1132.5" x2="48" y2="1150.6"/></g><rect x="36" y="1153.2" width="24.1" height="2.7" fill="#857d76"/><path d="M23.60 29.00 L24.29 27.90 L25.08 27.00 L25.96 26.27 L26.93 25.72 L27.98 25.31 L29.11 25.05 L30.31 24.92 L31.57 24.91 L32.90 25.00 L34.27 25.18 L35.70 25.43 L37.17 25.76 L38.67 26.13 L40.21 26.54 L41.78 26.98 L43.36 27.42 L44.96 27.87 L46.57 28.31 L48.18 28.72 L49.79 29.09 L51.40 29.41 L52.99 29.66 L54.56 29.84 L56.11 29.92 L57.63 29.90 L59.12 29.77 L60.56 29.50 L61.96 29.09 L63.31 28.53 L64.60 27.80 L77.80 55.50 L76.30 56.08 L74.76 56.51 L73.19 56.82 L71.60 57.02 L69.98 57.10 L68.34 57.09 L66.69 57.00 L65.03 56.83 L63.37 56.61 L61.70 56.33 L60.04 56.01 L58.40 55.66 L56.76 55.29 L55.14 54.91 L53.55 54.54 L51.98 54.18 L50.45 53.85 L48.96 53.55 L47.50 53.30 L46.10 53.11 L44.74 52.98 L43.44 52.94 L42.20 52.99 L41.03 53.14 L39.92 53.41 L38.89 53.79 L37.94 54.31 L37.07 54.98 L36.29 55.81 L35.60 56.80 Z" fill="#111" stroke="#111" stroke-width="0.8" stroke-linejoin="round"/><path d="M25.47 30.50 L26.18 29.69 L26.97 29.03 L27.83 28.50 L28.76 28.10 L29.76 27.82 L30.81 27.64 L34.02 35.23 L32.98 35.40 L31.99 35.68 L31.06 36.08 L30.21 36.60 L29.42 37.25 L28.71 38.04 Z" fill="#fbfaf9"/><path d="M31.95 45.57 L32.66 44.80 L33.44 44.17 L34.29 43.66 L35.21 43.27 L36.20 42.99 L37.24 42.81 L40.45 50.39 L39.41 50.57 L38.44 50.85 L37.52 51.24 L36.67 51.74 L35.89 52.36 L35.19 53.11 Z" fill="#fbfaf9"/><path d="M34.02 35.23 L35.13 35.15 L36.28 35.15 L37.48 35.24 L38.73 35.39 L40.02 35.61 L41.34 35.87 L44.52 43.38 L43.20 43.13 L41.92 42.93 L40.68 42.79 L39.48 42.72 L38.33 42.72 L37.24 42.81 Z" fill="#fbfaf9"/><path d="M38.15 28.37 L39.51 28.69 L40.90 29.05 L42.30 29.43 L43.73 29.83 L45.17 30.23 L46.63 30.63 L49.82 38.02 L48.36 37.64 L46.91 37.26 L45.48 36.88 L44.08 36.52 L42.69 36.18 L41.34 35.87 Z" fill="#fbfaf9"/><path d="M44.52 43.38 L45.87 43.67 L47.25 43.99 L48.66 44.33 L50.09 44.69 L51.54 45.05 L53.00 45.42 L56.19 52.81 L54.72 52.47 L53.27 52.12 L51.84 51.78 L50.43 51.45 L49.05 51.15 L47.70 50.88 Z" fill="#fbfaf9"/><path d="M49.82 38.02 L51.28 38.39 L52.76 38.73 L54.23 39.05 L55.70 39.32 L57.17 39.55 L58.62 39.72 L61.89 47.05 L60.42 46.89 L58.93 46.67 L57.45 46.40 L55.96 46.10 L54.48 45.77 L53.00 45.42 Z" fill="#fbfaf9"/><path d="M55.35 32.38 L56.77 32.49 L58.17 32.51 L59.54 32.44 L60.88 32.27 L62.19 32.00 L63.46 31.60 L66.92 39.01 L65.61 39.38 L64.26 39.64 L62.89 39.79 L61.49 39.85 L60.06 39.82 L58.62 39.72 Z" fill="#fbfaf9"/><path d="M61.89 47.05 L63.36 47.16 L64.81 47.19 L66.24 47.14 L67.65 47.00 L69.03 46.76 L70.39 46.42 L73.85 53.83 L72.46 54.15 L71.03 54.36 L69.59 54.49 L68.13 54.53 L66.65 54.49 L65.16 54.39 Z" fill="#fbfaf9"/><line x1="20.6" y1="26.4" x2="46.5" y2="82.2" stroke="#111" stroke-width="3" stroke-linecap="round"/><g fill="none" stroke="#2b2b2b" stroke-width="2.1"><rect x="1302.05" y="48.05" width="5.8" height="8.7"/><rect x="1311.75" y="35.05" width="5.7" height="21.7"/><rect x="1321.25" y="41.95" width="5.5" height="14.8"/></g><g fill="none" stroke="#7d756e" stroke-width="2.2"><rect x="1518.2" y="35.1" width="24.2" height="21.5" rx="1.4"/><line x1="1518" y1="41.6" x2="1543" y2="41.6"/><line x1="1526.3" y1="41.5" x2="1526.3" y2="57"/><line x1="1534.4" y1="41.5" x2="1534.4" y2="57"/></g><rect x="171.95" y="137.15" width="23.9" height="21.5" rx="1.3" fill="none" stroke="#3d9488" stroke-width="2.1"/><g fill="#3d9488"><rect x="177.2" y="133.2" width="2.9" height="7.6"/><rect x="188.1" y="133.2" width="2.8" height="7.6"/><rect x="171" y="144.1" width="25.8" height="2.6"/><rect x="176" y="149.1" width="2.9" height="2.8"/><rect x="182.6" y="149.1" width="2.6" height="2.8"/><rect x="189.1" y="149.1" width="2.9" height="2.8"/></g><circle cx="786" cy="147.5" r="11.8" fill="none" stroke="#3d9488" stroke-width="2.4"/><circle cx="786.1" cy="148" r="6.8" fill="#3d9488"/><circle cx="782.4" cy="144" r="3.35" fill="#f2f8f7"/><g fill="#111"><rect x="1200" y="140" width="24" height="2.6"/><rect x="1204" y="147.2" width="16" height="2.6"/><rect x="1209" y="153.2" width="6" height="2.6"/></g><path d="M703.6 143.70000000000002 L711 151.10000000000002 L718.4 143.70000000000002" fill="none" stroke="#3d9488" stroke-width="2.6" stroke-linecap="butt" stroke-linejoin="miter"/><path d="M1130.35 143.70000000000002 L1137.75 151.10000000000002 L1145.15 143.70000000000002" fill="none" stroke="#3d9488" stroke-width="2.6" stroke-linecap="butt" stroke-linejoin="miter"/><path d="M1368.35 144.0 L1375.75 151.4 L1383.15 144.0" fill="none" stroke="#111" stroke-width="2.6" stroke-linecap="butt" stroke-linejoin="miter"/><path d="M2914.6 144.1 L2922 151.5 L2929.4 144.1" fill="none" stroke="#111" stroke-width="2.6" stroke-linecap="butt" stroke-linejoin="miter"/><path d="M2897.2 323.4 L2904.6 330.8 L2912.0 323.4" fill="none" stroke="#111" stroke-width="2.6" stroke-linecap="butt" stroke-linejoin="miter"/><path d="M2707.6 581.1999999999999 L2715 588.5999999999999 L2722.4 581.1999999999999" fill="none" stroke="#111" stroke-width="2.6" stroke-linecap="butt" stroke-linejoin="miter"/><path d="M2842.4 581.1999999999999 L2849.8 588.5999999999999 L2857.2000000000003 581.1999999999999" fill="none" stroke="#111" stroke-width="2.6" stroke-linecap="butt" stroke-linejoin="miter"/><circle cx="403.05" cy="219.8" r="11.950000000000012" fill="none" stroke="#aca6a1" stroke-width="2.3"/><path d="M399.35 216.4 Q399.65000000000003 213.3 403.05 213.3 Q406.85 213.3 406.85 216.60000000000002 Q406.85 218.60000000000002 404.65000000000003 220.10000000000002 Q403.05 221.20000000000002 403.05 222.8" fill="none" stroke="#aca6a1" stroke-width="2.3"/><rect x="401.8" y="223.9" width="2.5" height="2.6" fill="#aca6a1"/><circle cx="2490.625" cy="331.0" r="12.025" fill="none" stroke="#aca6a1" stroke-width="2.3"/><path d="M2486.925 327.6 Q2487.225 324.5 2490.625 324.5 Q2494.425 324.5 2494.425 327.8 Q2494.425 329.8 2492.225 331.3 Q2490.625 332.4 2490.625 334.0" fill="none" stroke="#aca6a1" stroke-width="2.3"/><rect x="2489.375" y="335.1" width="2.5" height="2.6" fill="#aca6a1"/><g fill="#111"><circle cx="2922.3" cy="575.5" r="3"/><circle cx="2922.3" cy="585" r="3"/><circle cx="2922.3" cy="594.5" r="3"/></g><path d="M631 573.4 L646.1 598.2 H615.9 Z" fill="none" stroke="#ab6224" stroke-width="3.1" stroke-linejoin="round"/><rect x="629.3" y="581.6" width="3.4" height="8.2" rx="1.5" fill="#ab6224"/><circle cx="631" cy="593.4" r="1.8" fill="#ab6224"/></svg></body></html>
